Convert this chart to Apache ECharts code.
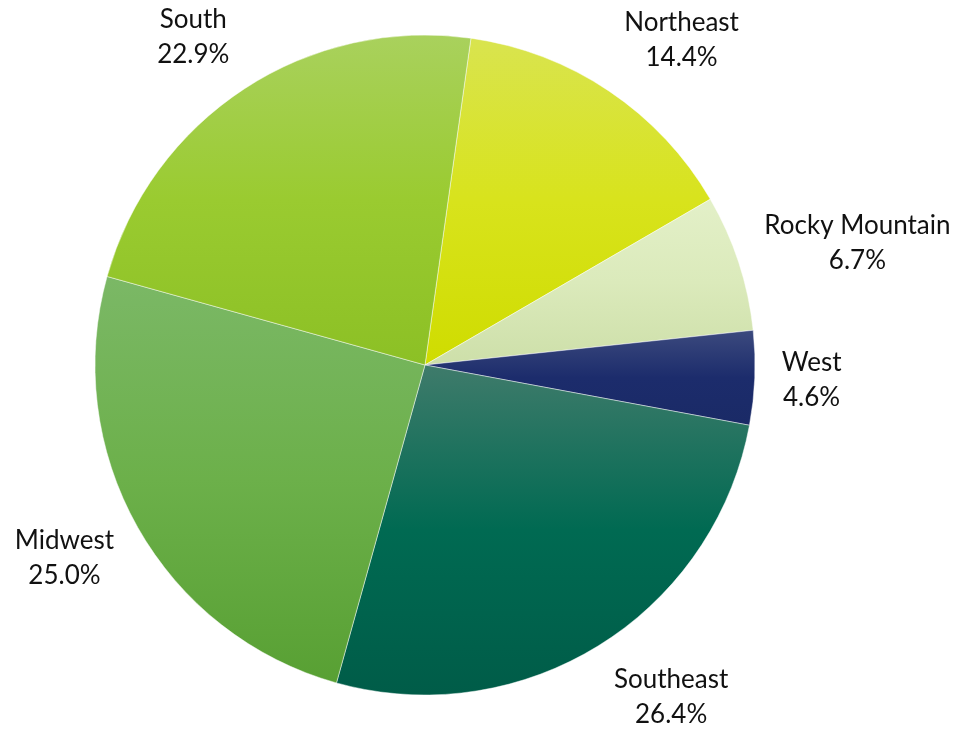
<!DOCTYPE html>
<html>
<head>
<meta charset="utf-8">
<script src="https://cdn.jsdelivr.net/npm/echarts@6/dist/echarts.min.js"></script>
<style>
  html, body { margin: 0; padding: 0; background: #fff; }
  #chart { width: 960px; height: 736px; }
</style>
</head>
<body>
<div id="chart"></div>
<script>
const regions = ['Northeast', 'Rocky Mountain', 'West', 'Southeast', 'Midwest', 'South'];
const shares = [14.4, 6.7, 4.6, 26.4, 25.0, 22.9];

// top / middle / bottom colour of each slice's vertical gradient
const sliceColors = [
  ['#d9e44f', '#d8e31c', '#cfdc00'],
  ['#e3f0c8', '#dbeabb', '#cddfa9'],
  ['#3c4a7e', '#1c2c6c', '#1a2a66'],
  ['#3f7b6b', '#006a52', '#005c48'],
  ['#7bb866', '#6cb04a', '#58a033'],
  ['#a9d15d', '#9acb30', '#8cc025']
];

const center = [425, 365];
const radius = 330;
const firstAngle = 8; // degrees clockwise from 12 o'clock

function gradient(c) {
  return new echarts.graphic.LinearGradient(0, 0, 0, 1, [
    { offset: 0, color: c[0] },
    { offset: 0.5, color: c[1] },
    { offset: 1, color: c[2] }
  ]);
}

// mid angle of each slice (clockwise from the top)
const total = shares.reduce((a, b) => a + b, 0);
const midAngles = [];
let acc = firstAngle;
shares.forEach(v => {
  const span = v / total * 360;
  midAngles.push(acc + span / 2);
  acc += span;
});

function clamp(t) {
  return Math.max(-1, Math.min(1, t));
}

const chart = echarts.init(document.getElementById('chart'));
chart.setOption({
  animation: false,
  series: [{
    type: 'pie',
    center: center,
    radius: radius,
    startAngle: 90 - firstAngle,
    clockwise: true,
    data: regions.map((name, i) => ({
      name: name,
      value: shares[i],
      itemStyle: { color: gradient(sliceColors[i]) }
    })),
    itemStyle: { borderColor: 'rgba(255,255,255,0.45)', borderWidth: 1 },
    label: {
      show: true,
      position: 'outside',
      formatter: p => p.name + '\n' + p.value.toFixed(1) + '%',
      fontFamily: 'Lato',
      fontSize: 26,
      lineHeight: 35,
      color: '#111',
      overflow: 'none'
    },
    labelLine: { show: false },
    labelLayout: params => {
      // park the label just off the rim, pushed outward by its own size
      const a = midAngles[params.dataIndex] * Math.PI / 180;
      const ux = Math.sin(a);
      const uy = -Math.cos(a);
      const d = radius + 27;
      const w = params.labelRect.width;
      const h = params.labelRect.height;
      return {
        x: center[0] + ux * d + clamp(ux * 2) * w / 2,
        y: center[1] + uy * d + uy * h / 2,
        align: 'center',
        verticalAlign: 'middle'
      };
    },
    emphasis: { disabled: true }
  }]
});
</script>
</body>
</html>
